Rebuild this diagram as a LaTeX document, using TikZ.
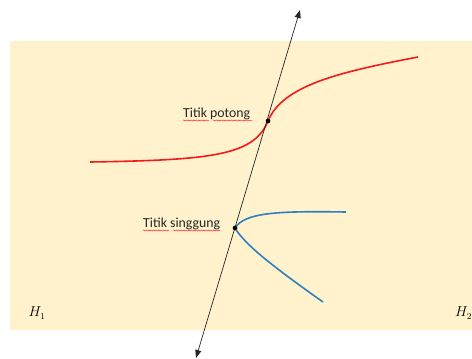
\documentclass[tikz,border=0pt]{standalone}
\usepackage{fontspec}
\setmainfont{Carlito}
\usetikzlibrary{arrows.meta,decorations.pathmorphing}
\definecolor{bgbeige}{HTML}{FFF2CC}
\definecolor{curvered}{HTML}{F21A1A}
\definecolor{curveblue}{HTML}{2F80C0}
\tikzset{
  lbl/.style={font=\fontsize{13.8}{16}\selectfont, text=black!85, inner sep=0pt},
  dotpt/.style={circle, fill=black, inner sep=0pt, minimum size=4.5pt},
  wavy/.style={draw=red!80, line width=0.5pt, decorate, decoration={snake, amplitude=0.6pt, segment length=2.5pt}},
  crv/.style={line width=1.6pt},
  hlbl/.style={inner sep=0pt, font=\fontsize{13.5}{15}\selectfont},
}
\begin{document}
\begin{tikzpicture}[x=1pt,y=-1pt]
\useasboundingbox (0,0) rectangle (472,359);
\fill[bgbeige] (10,41) rectangle (472,330);
% points
\coordinate (top) at (300,10);
\coordinate (bot) at (196,358);
\node[dotpt] (P) at (268,121) {};
\node[dotpt] (S) at (235,228) {};
% red curve
\draw[crv, curvered] (90,162) .. controls (210,160) and (254,156) .. (P.center)
  .. controls (283,85) and (340,72) .. (418,57);
% blue curve
\draw[crv, curveblue] (346,212) .. controls (280,211) and (245,212) .. (S.center)
  .. controls (245,245) and (275,268) .. (323,302);
% line with arrows
\draw[line width=0.7pt, black!85, {Triangle[length=8pt,width=6pt]}-{Triangle[length=8pt,width=6pt]}] (bot) -- (top);
\node[dotpt] at (P) {};
\node[dotpt] at (S) {};
% labels
\node[lbl, anchor=base west] (tp) at (183,117) {Titik potong};
\node[lbl, anchor=base west] (ts) at (143,227) {Titik singgung};
\draw[wavy] (183,120.5) -- (209,120.5);
\draw[wavy] (213,120.5) -- (252,120.5);
\draw[wavy] (143,230.5) -- (169,230.5);
\draw[wavy] (173,230.5) -- (220,230.5);
\node[hlbl] (h1) at (37,313) {$H_1$};
\node[hlbl, anchor=west] (h2) at (455,313) {$H_2$};
\end{tikzpicture}
\end{document}
